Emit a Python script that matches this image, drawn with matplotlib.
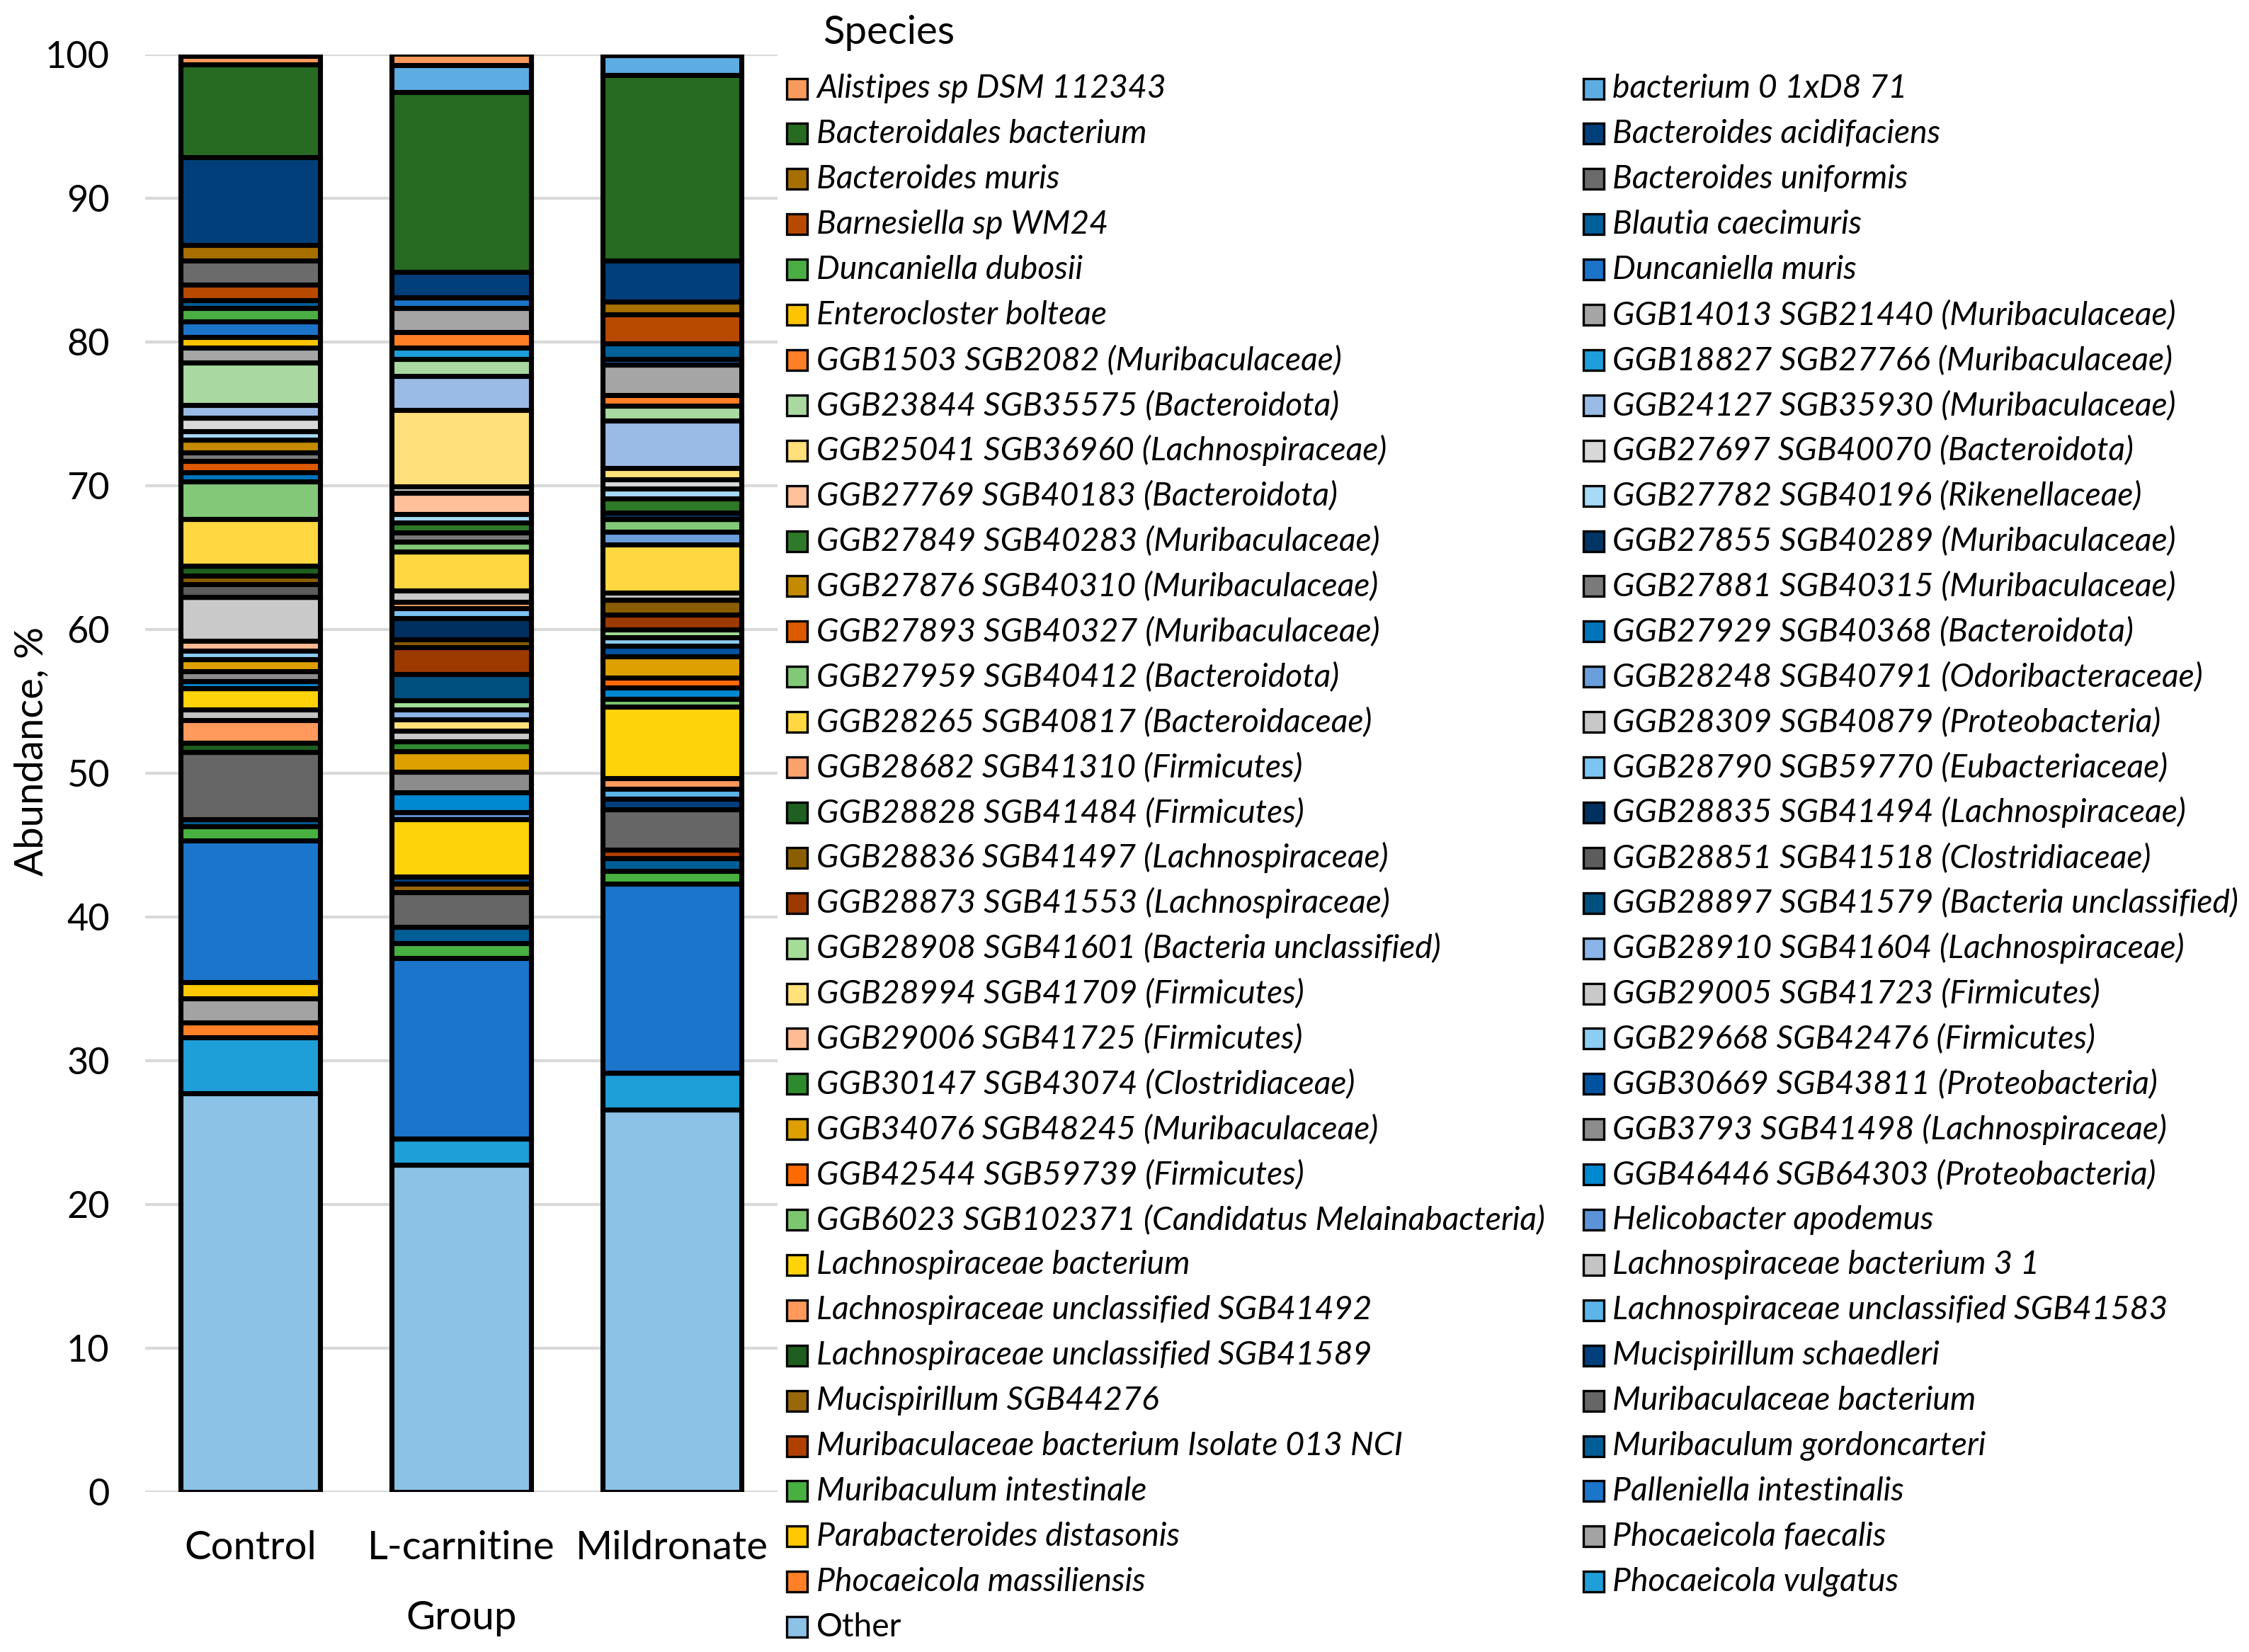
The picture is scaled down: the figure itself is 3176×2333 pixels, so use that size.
import matplotlib
matplotlib.use("Agg")
import matplotlib.pyplot as plt
from matplotlib.patches import Rectangle
import numpy as np

plt.rcParams["font.family"] = ["Lato", "DejaVu Sans"]

groups = ["Control", "L-carnitine", "Mildronate"]

# legend order (row-major, two columns); stacked top -> bottom in this order
species = [
    "Alistipes sp DSM 112343", "bacterium 0 1xD8 71",
    "Bacteroidales bacterium", "Bacteroides acidifaciens",
    "Bacteroides muris", "Bacteroides uniformis",
    "Barnesiella sp WM24", "Blautia caecimuris",
    "Duncaniella dubosii", "Duncaniella muris",
    "Enterocloster bolteae", "GGB14013 SGB21440 (Muribaculaceae)",
    "GGB1503 SGB2082 (Muribaculaceae)", "GGB18827 SGB27766 (Muribaculaceae)",
    "GGB23844 SGB35575 (Bacteroidota)", "GGB24127 SGB35930 (Muribaculaceae)",
    "GGB25041 SGB36960 (Lachnospiraceae)", "GGB27697 SGB40070 (Bacteroidota)",
    "GGB27769 SGB40183 (Bacteroidota)", "GGB27782 SGB40196 (Rikenellaceae)",
    "GGB27849 SGB40283 (Muribaculaceae)", "GGB27855 SGB40289 (Muribaculaceae)",
    "GGB27876 SGB40310 (Muribaculaceae)", "GGB27881 SGB40315 (Muribaculaceae)",
    "GGB27893 SGB40327 (Muribaculaceae)", "GGB27929 SGB40368 (Bacteroidota)",
    "GGB27959 SGB40412 (Bacteroidota)", "GGB28248 SGB40791 (Odoribacteraceae)",
    "GGB28265 SGB40817 (Bacteroidaceae)", "GGB28309 SGB40879 (Proteobacteria)",
    "GGB28682 SGB41310 (Firmicutes)", "GGB28790 SGB59770 (Eubacteriaceae)",
    "GGB28828 SGB41484 (Firmicutes)", "GGB28835 SGB41494 (Lachnospiraceae)",
    "GGB28836 SGB41497 (Lachnospiraceae)", "GGB28851 SGB41518 (Clostridiaceae)",
    "GGB28873 SGB41553 (Lachnospiraceae)", "GGB28897 SGB41579 (Bacteria unclassified)",
    "GGB28908 SGB41601 (Bacteria unclassified)", "GGB28910 SGB41604 (Lachnospiraceae)",
    "GGB28994 SGB41709 (Firmicutes)", "GGB29005 SGB41723 (Firmicutes)",
    "GGB29006 SGB41725 (Firmicutes)", "GGB29668 SGB42476 (Firmicutes)",
    "GGB30147 SGB43074 (Clostridiaceae)", "GGB30669 SGB43811 (Proteobacteria)",
    "GGB34076 SGB48245 (Muribaculaceae)", "GGB3793 SGB41498 (Lachnospiraceae)",
    "GGB42544 SGB59739 (Firmicutes)", "GGB46446 SGB64303 (Proteobacteria)",
    "GGB6023 SGB102371 (Candidatus Melainabacteria)", "Helicobacter apodemus",
    "Lachnospiraceae bacterium", "Lachnospiraceae bacterium 3 1",
    "Lachnospiraceae unclassified SGB41492", "Lachnospiraceae unclassified SGB41583",
    "Lachnospiraceae unclassified SGB41589", "Mucispirillum schaedleri",
    "Mucispirillum SGB44276", "Muribaculaceae bacterium",
    "Muribaculaceae bacterium Isolate 013 NCI", "Muribaculum gordoncarteri",
    "Muribaculum intestinale", "Palleniella intestinalis",
    "Parabacteroides distasonis", "Phocaeicola faecalis",
    "Phocaeicola massiliensis", "Phocaeicola vulgatus",
    "Other",
]

colors = [
    "#F79A5B", "#5DADE2", "#276B22", "#003F7A", "#A66F00", "#6B6B6B",
    "#B84A00", "#00609A", "#4BAE45", "#1C74C9", "#FFC400", "#A5A5A5",
    "#FF7F27", "#1E9FDC", "#A9D9A0", "#9ABBE5", "#FFE07B", "#D8D8D8",
    "#FFC09A", "#A6DAF7", "#2F7A2A", "#003566", "#C48A00", "#7A7A7A",
    "#DC5A00", "#0074BA", "#82C878", "#6A9FDB", "#FFD740", "#C8C8C8",
    "#F9A26C", "#7CC5F2", "#1F5F1F", "#00305F", "#8A5E00", "#5C5C5C",
    "#9C3A00", "#00507F", "#A5DD98", "#8BB4E8", "#FFE27A", "#C9C9C9",
    "#FFBB92", "#8CCDF2", "#2E8A2E", "#0052A0", "#DDA000", "#8C8C8C",
    "#FF6A00", "#0088D1", "#7CC76E", "#5C93D8", "#FFD30A", "#C4C4C4",
    "#FF9A5C", "#5BB5EA", "#1E5E1E", "#003F7E", "#99680A", "#666666",
    "#B04000", "#005E96", "#48B040", "#1B75CB", "#FFC800", "#A3A3A3",
    "#FF8026", "#1E9FD8", "#8CC2E6",
]

control = [
    0.6, 0, 6.45, 6.1, 1.1, 1.65, 1.1, 0.55, 0.95, 1.05, 0.75, 1.05,
    0, 0, 2.95, 0.9, 0, 0.9, 0, 0.63, 0, 0, 0.85, 0.6,
    0.82, 0.6, 2.65, 0, 3.25, 0, 0, 0, 0.65, 0, 0.63, 0.85,
    0, 0, 0, 0, 0, 3.08, 0.68, 0.6, 0, 0, 0.85, 0.65,
    0, 0.5, 0, 0, 1.49, 0.73, 1.6, 0, 0.62, 0, 0, 4.67,
    0, 0.5, 1.0, 9.87, 1.1, 1.67, 1.07, 3.9, 27.7,
]
lcarnitine = [
    0.75, 1.9, 12.5, 1.8, 0, 0, 0, 0, 0, 0.7, 0, 1.69,
    1.07, 0.79, 1.21, 2.37, 5.3, 0.46, 1.47, 0.58, 0.68, 0, 0, 0.68,
    0, 0, 0.68, 0, 2.7, 0.77, 0.46, 0.68, 0, 1.5, 0.55, 0,
    1.85, 1.8, 0.68, 0.68, 0.8, 0.73, 0, 0, 0.68, 0, 1.45, 1.43,
    0, 1.34, 0, 0.5, 4.0, 0, 0, 0, 0, 0.5, 0.57, 2.44,
    0, 1.1, 1.07, 12.54, 0, 0, 0, 1.84, 22.74,
]
mildronate = [
    0, 1.4, 12.87, 2.87, 0.9, 0, 2.0, 1.08, 0, 0.4, 0, 2.13,
    0.74, 0, 1.04, 3.28, 0.82, 0.6, 0, 0.73, 0.97, 0.43, 0, 0,
    0, 0, 0.9, 0.89, 3.33, 0.51, 0, 0, 0, 0, 1.03, 0,
    1.03, 0, 0.56, 0, 0, 0, 0, 0.6, 0, 0.72, 1.5, 0,
    0.68, 0.75, 0.56, 0, 4.96, 0, 0.77, 0.67, 0, 0.74, 0, 2.84,
    0.57, 0.87, 0.9, 13.14, 0, 0, 0, 2.58, 26.59,
]


def main():
    fig = plt.figure(figsize=(3176 / 300, 2333 / 300), dpi=300)
    ax = fig.add_axes([0.0645, 0.097, 0.2812, 0.870])

    vals = np.array([control, lcarnitine, mildronate])
    x = np.arange(len(groups))
    bottom = np.zeros(len(groups))
    # "Other" sits at the bottom, first legend entry on top
    for i in range(len(species) - 1, -1, -1):
        h = vals[:, i]
        ax.bar(x, h, bottom=bottom, width=0.66, color=colors[i],
               edgecolor="black", linewidth=1.7, zorder=3)
        bottom = bottom + h

    ax.set_xlim(-0.5, 2.5)
    ax.set_ylim(0, 100)
    ax.set_yticks(np.arange(0, 101, 10))
    ax.set_xticks(x)
    ax.set_xticklabels(groups, fontsize=13.5)
    ax.tick_params(axis="y", length=0, pad=12, labelsize=12.5)
    ax.tick_params(axis="x", length=0, pad=13)
    ax.yaxis.grid(True, color="#D9D9D9", linewidth=1.0)
    ax.set_axisbelow(True)
    for s in ax.spines.values():
        s.set_visible(False)

    ax.set_xlabel("Group", fontsize=13.5, va="center")
    ax.xaxis.set_label_coords(0.5, -0.088)
    ax.set_ylabel("Abundance, %", fontsize=13.5, va="center")
    ax.yaxis.set_label_coords(-0.179, 0.515)

    # legend, two columns, row-major
    W, H = 3176.0, 2333.0
    fig.text(1255 / W, 1 - 47 / H, "Species", fontsize=13.5,
             ha="center", va="center")
    col_sw = [1111, 2236]
    col_tx = [1153, 2277]
    y0, dy, sw = 125.0, 63.9, 29.0
    for i, name in enumerate(species):
        col = i % 2
        row = i // 2
        yc = y0 + row * dy
        fig.add_artist(Rectangle((col_sw[col] / W, 1 - (yc + sw / 2) / H),
                                 sw / W, sw / H, transform=fig.transFigure,
                                 facecolor=colors[i], edgecolor="black",
                                 linewidth=0.8))
        style = "normal" if name == "Other" else "italic"
        fig.text(col_tx[col] / W, 1 - yc / H, name, fontsize=11.1,
                 style=style, ha="left", va="center")

    fig.savefig("out.png", dpi=300, facecolor="white")
    plt.close(fig)


if __name__ == "__main__":
    main()
